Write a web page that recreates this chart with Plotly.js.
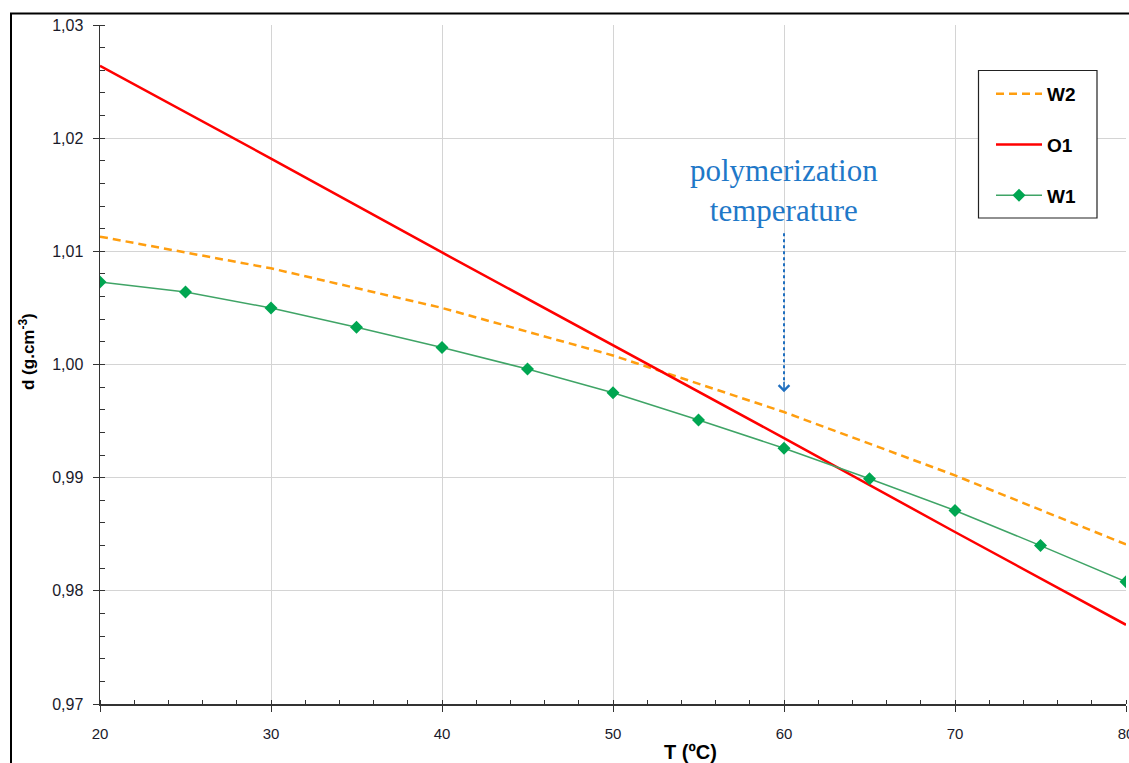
<!DOCTYPE html>
<html>
<head>
<meta charset="utf-8">
<script src="https://cdn.plot.ly/plotly-3.0.1.min.js"></script>
<style>html,body{margin:0;padding:0;background:#fff;}#chart{width:1129px;height:763px;}</style>
</head>
<body>
<div id="chart"></div>
<script>
// Temperatures (°C)
const tLine = [20, 30, 40, 50, 60, 70, 80];
const tW1 = [20, 25, 30, 35, 40, 45, 50, 55, 60, 65, 70, 75, 80];
// Densities (g.cm-3)
const dW2 = [1.0113, 1.0085, 1.0050, 1.0008, 0.9958, 0.9902, 0.9841];
const dO1 = [1.0264, 1.0182, 1.0099, 1.0017, 0.9935, 0.9852, 0.9770];
const dW1 = [1.0073, 1.0064, 1.0050, 1.0033, 1.0015, 0.9996, 0.9975, 0.9951, 0.9926, 0.9899, 0.9871, 0.9840, 0.9808];
const seriesNames = ['W2', 'O1', 'W1'];
const yTicks = [0.97, 0.98, 0.99, 1.00, 1.01, 1.02, 1.03];
const xTicks = [20, 30, 40, 50, 60, 70, 80];

const traces = [
  {x: tLine, y: dW2, name: seriesNames[0], mode: 'lines', legendgroup: 'a',
   line: {color: '#FF9E0F', width: 2.5, dash: '8px,5px'}},
  {x: tLine, y: dO1, name: seriesNames[1], mode: 'lines', legendgroup: 'b',
   line: {color: '#FF0000', width: 2.5}},
  {x: tW1, y: dW1, name: seriesNames[2], mode: 'lines+markers', legendgroup: 'c',
   line: {color: '#3FA466', width: 1.5},
   marker: {symbol: 'diamond', size: 10, color: '#00A651'}}
];

const PX = (px) => (px - 100) / 1026;      // pixel x -> paper x
const PY = (py) => (704 - py) / 679;       // pixel y -> paper y

const layout = {
  width: 1129, height: 763,
  margin: {l: 100, r: 3, t: 25, b: 59, pad: 0},
  paper_bgcolor: '#fff', plot_bgcolor: '#fff',
  separators: ', ',
  font: {family: 'Liberation Sans, Arial, sans-serif', color: '#1a1a2a', size: 15},
  showlegend: true,
  legend: {
    x: PX(991), y: PY(75), xanchor: 'left', yanchor: 'top',
    bgcolor: 'rgba(0,0,0,0)', borderwidth: 0,
    font: {size: 19, color: '#000', family: 'Liberation Sans, Arial, sans-serif', weight: 'bold'},
    tracegroupgap: 23, itemwidth: 46, traceorder: 'grouped'
  },
  xaxis: {
    range: [20, 80], tickvals: xTicks, ticks: 'outside', ticklen: 6, tickcolor: '#333',
    showline: true, linecolor: '#333', linewidth: 1.5,
    showgrid: true, gridcolor: '#d4d4d4', gridwidth: 1, zeroline: false,
    ticklabelstandoff: 9, ticklabeloverflow: 'allow',
    tickfont: {size: 15, color: '#1a1a2a'},
    minor: {dtick: 2, ticks: 'inside', ticklen: 4, tickcolor: '#333', showgrid: false}
  },
  yaxis: {
    range: [0.97, 1.03], tickvals: yTicks, tickformat: '.2f', ticks: 'outside', ticklen: 6, tickcolor: '#333',
    showline: true, linecolor: '#333', linewidth: 1.5,
    showgrid: true, gridcolor: '#d4d4d4', gridwidth: 1, zeroline: false,
    ticklabelstandoff: 6, ticklabeloverflow: 'allow',
    tickfont: {size: 16, color: '#1a1a2a'},
    minor: {dtick: 0.002, ticks: 'inside', ticklen: 5, tickcolor: '#333', showgrid: false}
  },
  shapes: [
    {type: 'rect', xref: 'paper', yref: 'paper',
     x0: PX(11), x1: 1.05, y0: -0.2, y1: PY(13.5),
     line: {color: '#000', width: 2}, layer: 'below'},
    {type: 'rect', xref: 'paper', yref: 'paper',
     x0: PX(978.5), x1: PX(1097), y0: PY(218), y1: PY(70.5),
     fillcolor: '#fff', line: {color: '#222', width: 1.2}, layer: 'above'},
    {type: 'line', xref: 'x', yref: 'y', x0: 60, x1: 60, y0: 1.0116, y1: 0.9985,
     line: {color: '#1F6FC0', width: 2, dash: 'dot'}}
  ],
  annotations: [
    {x: 60, y: 1.0154, xref: 'x', yref: 'y', showarrow: false,
     text: 'polymerization<br>temperature', align: 'center',
     font: {family: 'Liberation Serif, Times New Roman, serif', size: 31, color: '#1F78C8'}},
    {x: 60, y: 0.99755, xref: 'x', yref: 'y', showarrow: true, ax: 0, ay: -12,
     arrowhead: 4, arrowsize: 1.3, arrowwidth: 1.6, arrowcolor: '#1F6FC0', text: ''},
    {x: PX(690), y: PY(752), xref: 'paper', yref: 'paper', showarrow: false,
     xanchor: 'center', yanchor: 'middle', text: 'T (ºC)',
     font: {size: 20, color: '#000', weight: 'bold'}},
    {x: PX(27), y: PY(352), xref: 'paper', yref: 'paper', showarrow: false,
     xanchor: 'center', yanchor: 'middle', textangle: -90, text: 'd (g.cm<sup>-3</sup>)',
     font: {size: 17, color: '#000', weight: 'bold'}}
  ]
};

Plotly.newPlot('chart', traces, layout, {displayModeBar: false, staticPlot: true});
</script>
</body>
</html>
